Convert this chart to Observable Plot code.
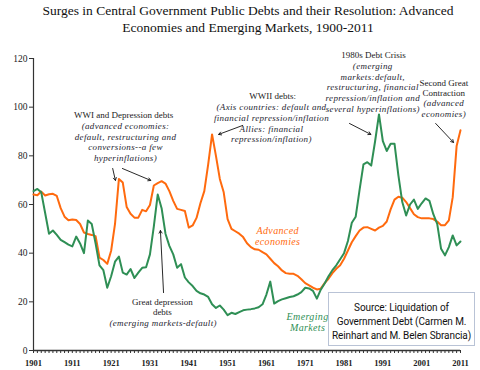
<!DOCTYPE html>
<html><head><meta charset="utf-8">
<script src="https://cdn.jsdelivr.net/npm/d3@7"></script>
<script src="https://cdn.jsdelivr.net/npm/@observablehq/plot@0.6"></script>
<style>
html,body{margin:0;padding:0;background:#fff;}
#title{height:40px;box-sizing:border-box;padding-top:1.5px;padding-left:16px;width:480px;font-family:"Liberation Serif",serif;font-size:13.5px;line-height:17px;text-align:center;color:#111;}
#chart{position:relative;width:480px;height:330px;}
#source{position:absolute;z-index:2;left:328px;top:252px;width:147px;height:54px;box-sizing:border-box;border:1px solid #b9c3d6;background:#fff;font-family:Roboto,sans-serif;font-size:10px;line-height:14px;text-align:center;padding-top:8px;color:#111;letter-spacing:-0.1px;}
#chart svg, #chart svg text{font-family:"Liberation Serif",serif !important;}
#chart svg g[font-style="italic"] text{letter-spacing:0.35px;}
</style></head><body>
<div id="title">Surges in Central Government Public Debts and their Resolution: Advanced<br>Economies and Emerging Markets, 1900-2011</div>
<div id="chart"><div id="source">Source: Liquidation of<br>Government Debt (Carmen M.<br>Reinhart and M. Belen Sbrancia)</div></div>
<script>
const years = d3.range(1901, 2012);
const advanced = [
  64.1, 63.8, 65.3, 63.7, 64.2, 64.4, 63.5, 58.5, 55.0, 53.5,
  53.8, 53.6, 52.0, 48.5, 47.9, 47.5, 47.0, 38.2, 37.2, 35.6,
  41.0, 52.0, 70.5, 69.0, 59.0, 56.2, 54.6, 54.6, 57.8, 57.2,
  59.8, 67.8, 68.8, 69.6, 68.6, 65.5, 61.5, 58.2, 57.8, 57.3,
  50.5, 51.4, 54.5, 60.5, 65.5, 76.5, 88.8, 80.0, 70.5, 65.0,
  54.0, 50.0, 49.0, 48.0, 46.6, 44.1, 42.5, 41.6, 41.4, 40.4,
  39.5, 37.7, 35.9, 34.6, 32.9, 31.8, 31.5, 31.5, 30.7, 29.3,
  27.7, 26.8, 25.8, 25.1, 25.4, 27.7, 29.5, 31.8, 33.6, 35.0,
  37.7, 41.1, 44.5, 47.0, 49.3, 50.5, 50.7, 50.0, 49.3, 50.5,
  51.2, 53.0, 58.0, 62.0, 63.2, 62.8, 61.0, 58.5, 56.0, 54.8,
  54.3, 54.3, 54.3, 54.0, 53.0, 51.5, 51.5, 53.5, 63.0, 84.0,
  90.5
];
const emerging = [
  65.5, 66.4, 65.0, 56.5, 48.0, 49.3, 47.5, 45.5, 44.5, 43.5,
  42.8, 46.8, 44.0, 40.0, 53.4, 52.0, 44.0, 35.0, 33.0, 25.8,
  30.5, 36.5, 38.6, 32.0, 31.2, 33.5, 29.8, 32.0, 34.0, 34.2,
  39.5, 51.0, 64.1, 58.5, 48.0, 43.0, 39.5, 34.0, 35.5, 30.0,
  28.0, 26.5, 24.5, 23.5, 23.0, 22.0, 19.0, 17.5, 18.5, 16.8,
  14.5, 15.5, 15.0, 15.8, 16.5, 16.8, 17.0, 17.3, 17.8, 19.0,
  23.0, 28.3, 19.3, 20.3, 21.0, 21.5, 22.0, 22.3, 23.0, 24.0,
  25.8, 25.5, 24.5, 21.3, 25.0, 27.5, 30.5, 33.0, 35.0, 37.5,
  40.0, 45.0, 52.5, 55.0, 66.0, 76.5, 77.4, 76.0, 86.0, 97.0,
  86.0, 82.0, 85.0, 85.0, 72.0, 61.0, 55.5, 60.0, 62.0, 58.2,
  60.5, 62.5, 61.5, 56.0, 52.0, 41.8, 39.1, 42.5, 47.3, 43.2,
  44.8
];
const yTicks = [0, 20, 40, 60, 80, 100, 120];
const xLabelYears = [1901, 1911, 1921, 1931, 1941, 1951, 1961, 1971, 1981, 1991, 2001, 2011];

const headingNotes = [
  {x: 1924.2, y: 97.0, text: "WWI and Depression debts"},
  {x: 1962.6, y: 104.8, text: "WWII debts:"},
  {x: 1988.6, y: 121.7, text: "1980s Debt Crisis"},
  {x: 2006.7, y: 108.1, text: "Second Great\nContraction"},
  {x: 1934.2, y: 18.0, text: "Great depression\ndebts"}
];
const italicNotes = [
  {x: 1924.7, y: 85.9, text: "(advanced economies:\ndefault, restructuring and\nconversions--a few\nhyperinflations)"},
  {x: 1962.3, y: 93.5, text: "(Axis countries: default and\nfinancial repression/inflation\nAllies: financial\nrepression/inflation)"},
  {x: 1988.4, y: 108.3, text: "(emerging\nmarkets:default,\nrestructuring, financial\nrepression/inflation and\nseveral hyperinflations)"},
  {x: 2006.7, y: 99.5, text: "(advanced\neconomies)"},
  {x: 1934.4, y: 11.5, text: "(emerging markets-default)"}
];
const arrowNotes = [
  {x1: 1921.4, y1: 74.8, x2: 1922.1, y2: 69.9},
  {x1: 1923.9, y1: 74.8, x2: 1931.2, y2: 69.9},
  {x1: 1954.9, y1: 92.5, x2: 1948.7, y2: 88.8},
  {x1: 1982.4, y1: 93.3, x2: 1987.9, y2: 88.8},
  {x1: 2004.6, y1: 93.3, x2: 2009.2, y2: 85.5},
  {x1: 1934.5, y1: 23.8, x2: 1933.7, y2: 49.3}
];
const ORANGE = "#ff6a0e", GREEN = "#2f8f55";
const seriesLabels = [
  {x: 1963.9, y: 47.1, text: "Advanced\neconomies", color: ORANGE},
  {x: 1971.6, y: 11.9, text: "Emerging\nMarkets", color: GREEN}
];

const advRows = years.map((yr, i) => ({year: yr, value: advanced[i]}));
const emRows = years.map((yr, i) => ({year: yr, value: emerging[i]}));
const SERIF = "Liberation Serif";

const chart = Plot.plot({
  width: 480, height: 330,
  marginLeft: 33, marginRight: 20, marginTop: 18, marginBottom: 20,
  style: {fontFamily: SERIF, fontSize: "9px", color: "#222", background: "transparent"},
  x: {domain: [1901, 2011], label: null},
  y: {domain: [0, 120], label: null},
  marks: [
    Plot.axisY({ticks: yTicks, tickSize: 4, tickPadding: 2, fontSize: 9.5, fontFamily: SERIF, stroke: "#333"}),
    Plot.axisX({ticks: years, tickSize: 3, tickFormat: () => "", stroke: "#333"}),
    Plot.axisX({ticks: xLabelYears, tickSize: 0, tickPadding: 9, tickFormat: d => String(d), fontSize: 8.5, fontFamily: SERIF, fontWeight: "bold"}),
    Plot.ruleX([1901], {stroke: "#333", strokeWidth: 1.2}),
    Plot.ruleY([0], {stroke: "#333", strokeWidth: 1.6}),
    Plot.line(advRows, {x: "year", y: "value", stroke: ORANGE, strokeWidth: 2}),
    Plot.line(emRows, {x: "year", y: "value", stroke: GREEN, strokeWidth: 2}),
    Plot.arrow(arrowNotes, {x1: "x1", y1: "y1", x2: "x2", y2: "y2", stroke: "#111", strokeWidth: 0.9, headLength: 5}),
    Plot.text(headingNotes, {x: "x", y: "y", text: "text", fontSize: 9, fontFamily: SERIF, lineHeight: 1.18, fill: "#1a1a1a"}),
    Plot.text(italicNotes, {x: "x", y: "y", text: "text", fontSize: 9, fontFamily: SERIF, lineHeight: 1.19, fontStyle: "italic", fill: "#1e1e30"}),
    Plot.text(seriesLabels, {x: "x", y: "y", text: "text", fill: d => d.color, fontSize: 10, fontFamily: SERIF, lineHeight: 1.1, fontStyle: "italic"})
  ]
});
document.getElementById("chart").prepend(chart);
</script>
</body></html>
